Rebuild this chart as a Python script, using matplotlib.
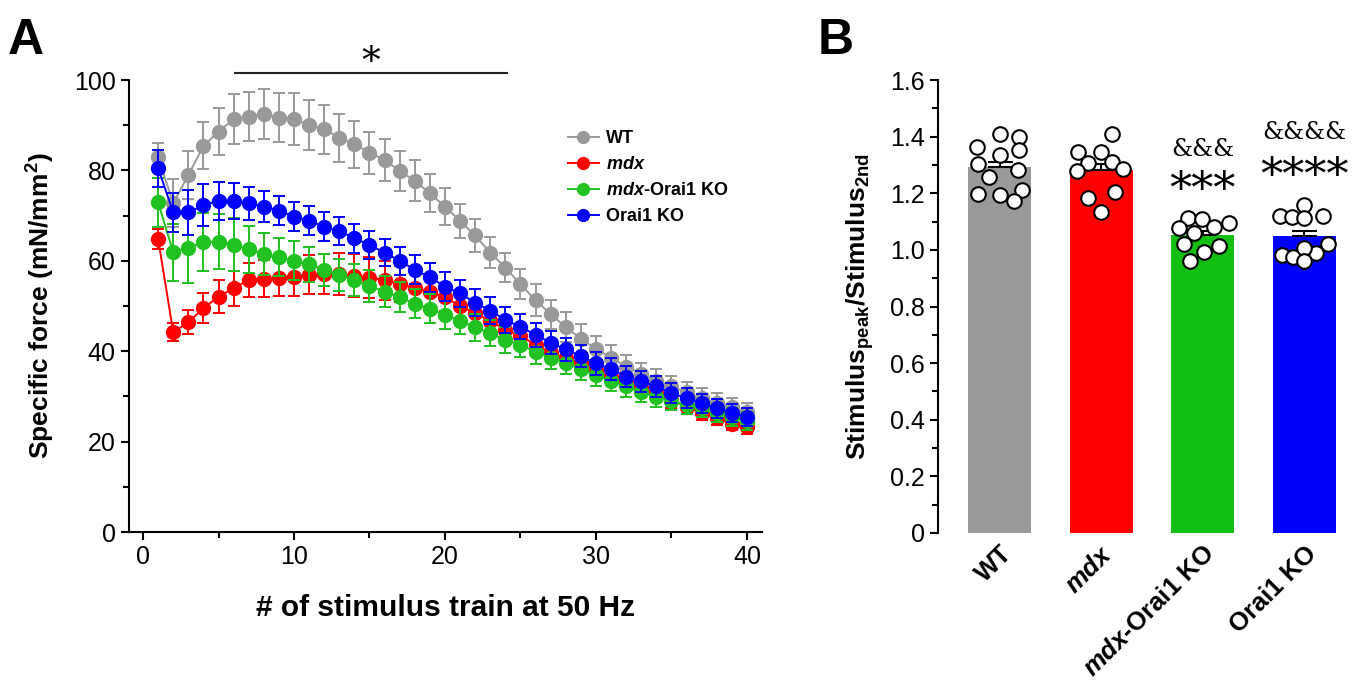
import numpy as np
import matplotlib
matplotlib.use('Agg')
import matplotlib.pyplot as plt
from matplotlib.ticker import MultipleLocator, FuncFormatter

plt.rcParams['font.family'] = ['Liberation Sans', 'DejaVu Sans']
plt.rcParams['mathtext.fontset'] = 'custom'
plt.rcParams['mathtext.rm'] = 'Liberation Sans:bold'
plt.rcParams['mathtext.bf'] = 'Liberation Sans:bold'
plt.rcParams['mathtext.it'] = 'Liberation Sans:bold:italic'

# ---- panel A data: specific force over 40 stimulus trains ----
trains = list(range(1, 41))
wt_force = [82.9, 72.7, 79.0, 85.4, 88.6, 91.3, 91.9, 92.5, 91.7, 91.4,
            90.0, 89.1, 87.2, 85.8, 83.9, 82.3, 79.9, 77.7, 74.9, 72.0,
            68.8, 65.6, 61.8, 58.5, 54.8, 51.3, 48.2, 45.3, 42.8, 40.5,
            38.6, 36.6, 35.0, 33.5, 32.2, 30.9, 29.6, 28.5, 27.6, 26.6]
wt_sem = [3.2, 5.3, 5.4, 5.2, 5.1, 5.5, 5.5, 5.5, 5.5, 5.7,
          5.5, 5.4, 5.3, 5.2, 4.6, 4.6, 4.4, 4.5, 4.2, 4.1,
          3.8, 3.6, 3.5, 3.3, 3.3, 3.5, 3.2, 3.3, 3.2, 2.8,
          2.7, 2.6, 2.5, 2.5, 2.4, 2.3, 2.2, 2.2, 2.1, 2.0]
mdx_force = [64.8, 44.2, 46.4, 49.5, 52.1, 53.9, 55.8, 56.0, 56.3, 56.5,
             56.9, 57.1, 57.1, 56.7, 56.3, 55.7, 54.9, 54.0, 53.1, 51.9,
             50.0, 48.4, 46.7, 44.8, 43.4, 41.4, 39.7, 38.4, 37.3, 35.8,
             34.4, 33.3, 31.8, 30.7, 29.2, 27.7, 26.3, 25.2, 24.0, 23.2]
mdx_sem = [2.2, 2.0, 2.7, 3.3, 3.7, 3.8, 3.8, 4.1, 4.0, 4.2,
           4.3, 4.5, 4.6, 4.8, 4.5, 4.3, 4.0, 3.5, 3.3, 3.0,
           2.8, 2.7, 2.5, 2.4, 2.3, 2.2, 2.1, 2.0, 2.0, 1.9,
           1.9, 1.8, 1.8, 1.7, 1.7, 1.6, 1.6, 1.5, 1.5, 1.5]
dko_force = [72.9, 61.9, 62.8, 64.2, 64.2, 63.6, 62.5, 61.5, 60.8, 60.0,
             59.2, 58.0, 56.9, 55.8, 54.4, 53.2, 52.0, 50.5, 49.4, 48.0,
             46.7, 45.3, 44.0, 42.5, 41.4, 39.9, 38.6, 37.5, 36.0, 34.7,
             33.5, 32.2, 31.0, 29.9, 29.0, 28.1, 27.4, 26.3, 25.5, 24.6]
dko_sem = [5.4, 6.3, 7.7, 6.4, 6.1, 5.8, 5.2, 4.7, 4.2, 4.3,
           3.9, 3.5, 3.5, 3.5, 3.5, 3.4, 3.3, 3.2, 3.2, 3.1,
           3.0, 3.0, 2.9, 2.8, 2.7, 2.7, 2.6, 2.5, 2.4, 2.4,
           2.3, 2.3, 2.2, 2.2, 2.1, 2.1, 2.0, 2.0, 2.0, 2.0]
ko_force = [80.5, 70.7, 70.7, 72.3, 73.3, 73.3, 72.7, 72.0, 71.1, 69.8,
            68.9, 67.5, 66.6, 65.0, 63.5, 61.8, 60.0, 58.0, 56.4, 54.3,
            52.8, 50.7, 49.0, 46.9, 45.4, 43.6, 41.9, 40.4, 38.9, 37.3,
            36.0, 34.4, 33.3, 32.2, 30.7, 29.6, 28.5, 27.4, 26.4, 25.5]
ko_sem = [4.1, 4.4, 5.0, 4.6, 4.2, 4.0, 3.7, 3.4, 3.2, 3.3,
          3.2, 3.2, 3.2, 3.2, 3.2, 3.0, 3.1, 3.2, 3.2, 3.2,
          3.0, 3.0, 2.9, 2.9, 2.8, 2.7, 2.6, 2.6, 2.5, 2.5,
          2.4, 2.4, 2.3, 2.3, 2.2, 2.2, 2.1, 2.1, 2.0, 2.0]

# ---- panel B data: stimulus peak / stimulus 2nd ----
groups = ['WT', r'$\mathit{mdx}$', r'$\mathit{mdx}$-Orai1 KO', 'Orai1 KO']
ratio_mean = [1.293, 1.281, 1.053, 1.050]
ratio_sem = [0.018, 0.022, 0.014, 0.016]
wt_pts = [1.411, 1.399, 1.363, 1.353, 1.336, 1.303, 1.282, 1.258, 1.211, 1.198, 1.194, 1.172]
wt_off = [0.0, 0.19, -0.22, 0.19, 0.0, -0.21, 0.18, -0.10, 0.22, -0.21, 0.0, 0.14]
mdx_pts = [1.411, 1.344, 1.344, 1.306, 1.312, 1.280, 1.285, 1.206, 1.183, 1.135]
mdx_off = [0.11, -0.23, 0.0, -0.13, 0.11, -0.24, 0.22, 0.14, -0.13, 0.0]
dko_pts = [1.112, 1.110, 1.077, 1.082, 1.094, 1.059, 1.021, 1.014, 0.994, 0.959]
dko_off = [-0.14, -0.01, -0.23, 0.11, 0.26, -0.09, -0.18, 0.16, 0.01, -0.12]
ko_pts = [1.159, 1.118, 1.115, 1.112, 1.118, 1.021, 0.990, 0.982, 0.976, 1.006, 0.962]
ko_off = [0.0, -0.24, -0.12, 0.0, 0.18, 0.23, 0.12, -0.22, -0.11, 0.0, 0.0]

colors = ['#999999', '#ff0000', '#1fc21f', '#0000ff']
bar_colors = ['#999999', '#ff0000', '#11c011', '#0000ff']
legend_labels = ['WT', r'$\mathit{mdx}$', r'$\mathit{mdx}$-Orai1 KO', 'Orai1 KO']

fig = plt.figure(figsize=(13.6, 6.83), dpi=100)

# ================= panel A =================
ax = fig.add_axes([129/1360, 1 - 532/683, 633/1360, 452/683])
series = [(wt_force, wt_sem), (mdx_force, mdx_sem), (dko_force, dko_sem), (ko_force, ko_sem)]
handles = []
for (m, s), c, lab in zip(series, colors, legend_labels):
    ax.errorbar(trains, m, yerr=s, fmt='none', ecolor=c, elinewidth=1.4,
                capsize=4.5, capthick=1.4)
    h, = ax.plot(trains, m, '-o', color=c, lw=1.4, ms=10, mec=c, label=lab)
    handles.append(h)

ax.set_xlim(-0.93, 41)
ax.set_ylim(0, 100)
ax.xaxis.set_major_locator(MultipleLocator(10))
ax.xaxis.set_minor_locator(MultipleLocator(5))
ax.yaxis.set_major_locator(MultipleLocator(20))
ax.yaxis.set_minor_locator(MultipleLocator(10))
for sp in ['top', 'right']:
    ax.spines[sp].set_visible(False)
for sp in ['left', 'bottom']:
    ax.spines[sp].set_linewidth(1.5)
ax.tick_params(which='major', direction='out', length=6, width=1.5, labelsize=18)
ax.tick_params(which='minor', direction='out', length=4, width=1.5)
ax.set_xlabel('# of stimulus train at 50 Hz', fontsize=21.5, fontweight='bold', labelpad=18)
ax.set_ylabel('Specific force (mN/mm$^2$)', fontsize=19, fontweight='bold', labelpad=12)

ax.legend(handles=handles, loc='upper left', bbox_to_anchor=(0.668, 0.925), frameon=False,
          prop={'weight': 'bold', 'size': 13}, handlelength=1.7,
          handletextpad=0.4, labelspacing=0.5, markerscale=0.85)

ax.plot([6.1, 24.1], [101.5, 101.5], color='#222222', lw=1.5, clip_on=False)
ax.text(15.1, 99.8, '*', fontsize=27, fontfamily='DejaVu Serif', ha='center', va='bottom')

fig.text(8/1360, 1 - 18/683, 'A', fontsize=36, fontweight='bold', va='top', ha='left')

# ================= panel B =================
bx = fig.add_axes([938/1360, 1 - 533/683, 417/1360, 453/683])
pos = np.arange(len(groups))
bx.bar(pos, ratio_mean, width=0.62, color=bar_colors, edgecolor='none', zorder=1)
bx.errorbar(pos, ratio_mean, yerr=[np.zeros(4), ratio_sem], fmt='none', ecolor='black',
            elinewidth=1.5, capsize=9, capthick=1.5, zorder=2)
for i, (pts, off) in enumerate([(wt_pts, wt_off), (mdx_pts, mdx_off), (dko_pts, dko_off), (ko_pts, ko_off)]):
    bx.scatter(i + np.array(off), pts, s=110, facecolor='white', edgecolor='black',
               linewidth=1.5, zorder=3)

bx.set_xlim(-0.606, 3.5)
bx.set_ylim(0, 1.6)
bx.yaxis.set_major_locator(MultipleLocator(0.2))
bx.yaxis.set_minor_locator(MultipleLocator(0.1))
bx.yaxis.set_major_formatter(FuncFormatter(lambda v, p: '0' if abs(v) < 1e-9 else f'{v:.1f}'))
for sp in ['top', 'right', 'bottom']:
    bx.spines[sp].set_visible(False)
bx.spines['left'].set_linewidth(1.5)
bx.tick_params(axis='y', which='major', direction='out', length=6, width=1.5, labelsize=18)
bx.tick_params(axis='y', which='minor', direction='out', length=4, width=1.5)
bx.tick_params(axis='x', length=0, pad=6)
bx.set_xticks(pos)
bx.set_xticklabels(groups, rotation=45, ha='right', rotation_mode='anchor',
                   fontsize=18.5, fontweight='bold')
bx.set_ylabel(r'Stimulus$_{\mathrm{peak}}$/Stimulus$_{\mathrm{2nd}}$', fontsize=19,
              fontweight='bold', labelpad=10)

bx.text(2, 1.355, '&&&', fontsize=17, fontfamily='DejaVu Serif', ha='center', va='center')
bx.text(2, 1.205, '***', fontsize=32, fontfamily='DejaVu Serif', ha='center', va='center')
bx.text(3, 1.415, '&&&&', fontsize=17, fontfamily='DejaVu Serif', ha='center', va='center')
bx.text(3, 1.255, '****', fontsize=32, fontfamily='DejaVu Serif', ha='center', va='center')

fig.text(818/1360, 1 - 18/683, 'B', fontsize=36, fontweight='bold', va='top', ha='left')

fig.savefig('out.png', dpi=100)
